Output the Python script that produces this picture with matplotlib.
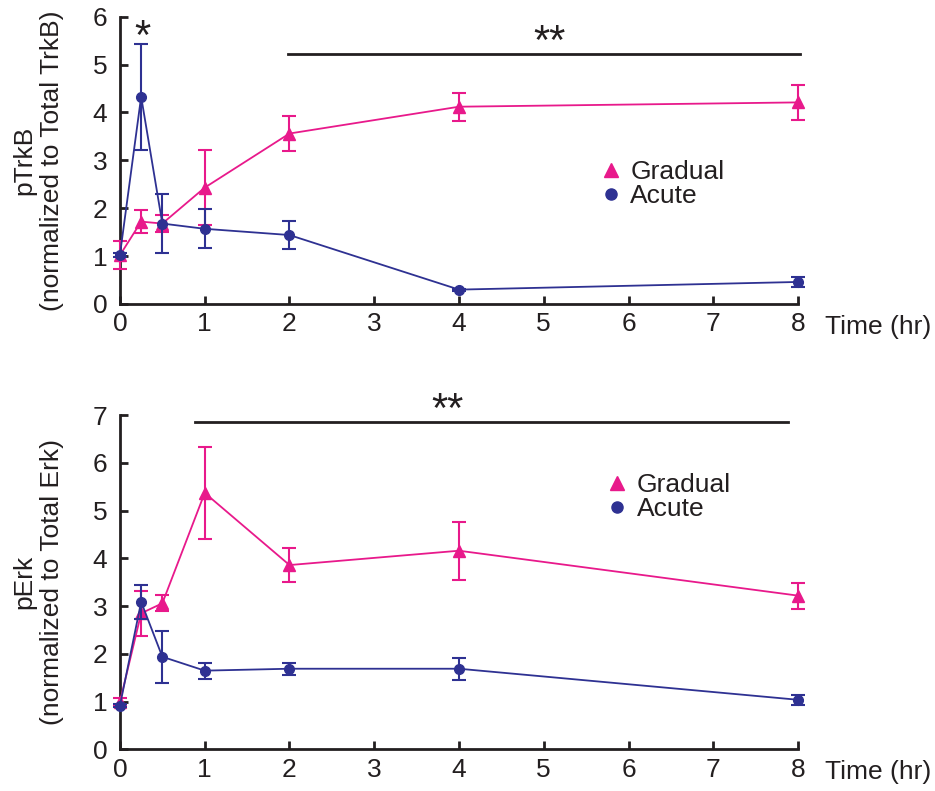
import matplotlib
matplotlib.use("Agg")
import matplotlib.pyplot as plt
from matplotlib.lines import Line2D

plt.rcParams['font.family'] = ['Liberation Sans', 'DejaVu Sans']

time = [0, 0.25, 0.5, 1, 2, 4, 8]
xticks = [0, 1, 2, 3, 4, 5, 6, 7, 8]

trkb_gradual = [1.02, 1.72, 1.68, 2.43, 3.56, 4.12, 4.21]
trkb_gradual_err = [0.29, 0.24, 0.17, 0.78, 0.37, 0.29, 0.36]
trkb_acute = [1.03, 4.33, 1.68, 1.57, 1.44, 0.30, 0.46]
trkb_acute_err = [0.04, 1.11, 0.61, 0.41, 0.30, 0.02, 0.10]

erk_gradual = [1.0, 2.85, 3.06, 5.37, 3.86, 4.16, 3.22]
erk_gradual_err = [0.07, 0.47, 0.17, 0.97, 0.36, 0.61, 0.27]
erk_acute = [0.92, 3.09, 1.94, 1.65, 1.69, 1.69, 1.04]
erk_acute_err = [0.04, 0.35, 0.54, 0.17, 0.13, 0.23, 0.11]

pink = '#E8198B'
navy = '#2E3192'
ink = '#231F20'
fs = 19

fig = plt.figure(figsize=(9.35, 7.91), dpi=100)
ax1 = fig.add_axes([0.1283, 0.6157, 0.7252, 0.3632])
ax2 = fig.add_axes([0.1283, 0.0525, 0.7252, 0.4228])


def style(ax, ymax, ylabel, tdy):
    ax.set_xlim(0, 8)
    ax.set_ylim(0, ymax)
    ax.set_xticks(xticks)
    ax.set_yticks(range(ymax + 1))
    for s in ['top', 'right']:
        ax.spines[s].set_visible(False)
    for s in ['left', 'bottom']:
        ax.spines[s].set_linewidth(2)
        ax.spines[s].set_color(ink)
    ax.tick_params(direction='in', length=6, width=2, labelsize=fs,
                   colors=ink)
    ax.tick_params(axis='x', pad=6)
    ax.tick_params(axis='y', pad=9)
    ax.set_ylabel(ylabel, fontsize=fs, color=ink, labelpad=21,
                  linespacing=1.15)
    ax.text(1.04, tdy, 'Time (hr)', transform=ax.transAxes, fontsize=fs,
            color=ink, ha='left', va='center')


def draw(ax, g, ge, a, ae):
    ax.errorbar(time, g, yerr=ge, color=pink, marker='^', markersize=8,
                lw=1.3, elinewidth=1.5, capsize=5, capthick=1.5,
                clip_on=False, zorder=3)
    ax.errorbar(time, a, yerr=ae, color=navy, marker='o', markersize=7,
                lw=1.3, elinewidth=1.5, capsize=5, capthick=1.5,
                clip_on=False, zorder=4)


style(ax1, 6, 'pTrkB\n(normalized to Total TrkB)', -0.08)
draw(ax1, trkb_gradual, trkb_gradual_err, trkb_acute, trkb_acute_err)
ax1.plot([1.98, 8.02], [5.22, 5.22], color=ink, lw=2, clip_on=False)
ax1.text(5.07, 5.22, '**', fontsize=30, ha='center', va='baseline',
         color=ink)
ax1.text(0.27, 5.32, '*', fontsize=30, ha='center', va='baseline',
         color=ink)

style(ax2, 7, 'pErk\n(normalized to Total Erk)', -0.068)
draw(ax2, erk_gradual, erk_gradual_err, erk_acute, erk_acute_err)
ax2.plot([0.88, 7.88], [6.86, 6.86], color=ink, lw=2, clip_on=False)
ax2.text(3.86, 6.86, '**', fontsize=30, ha='center', va='baseline',
         color=ink)

handles = [Line2D([], [], ls='none', marker='^', color=pink, markersize=10),
           Line2D([], [], ls='none', marker='o', color=navy, markersize=8)]
for ax, loc in [(ax1, (0.7085, 0.418)), (ax2, (0.7175, 0.755))]:
    ax.legend(handles, ['Gradual', 'Acute'], loc='center left',
              bbox_to_anchor=loc, frameon=False, fontsize=fs,
              handlelength=0.8, handletextpad=0.34, labelspacing=0.0,
              borderpad=0, borderaxespad=0, labelcolor=ink)

fig.savefig('out.png', dpi=100)
